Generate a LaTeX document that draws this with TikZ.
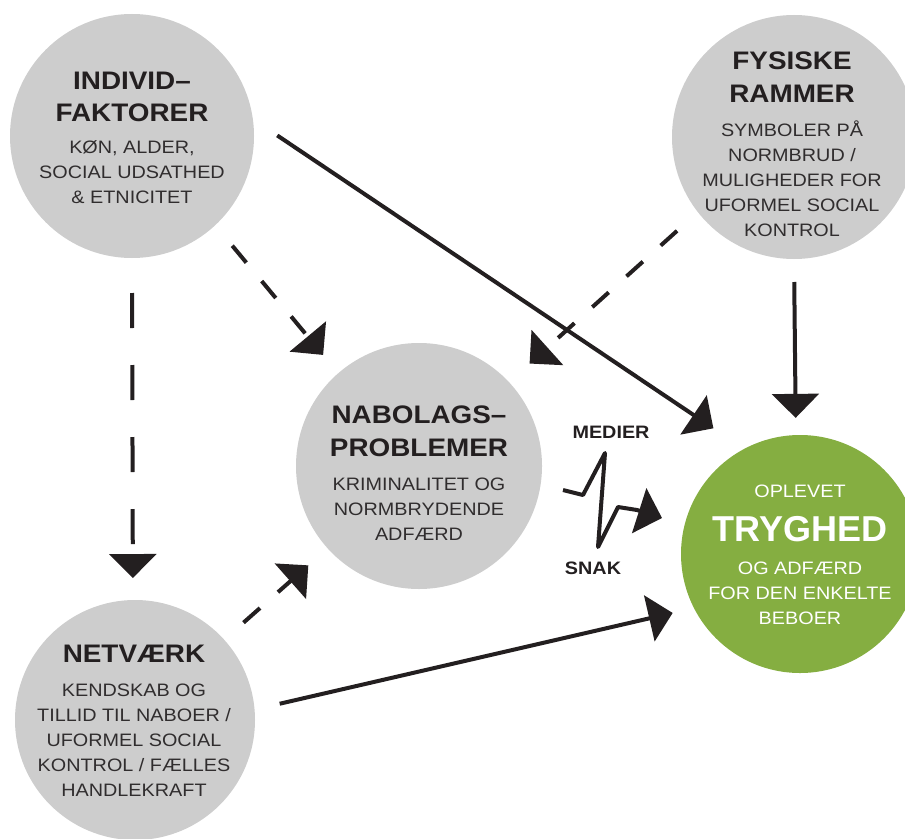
\documentclass[tikz,border=0pt]{standalone}
\usepackage{fontspec}
\setmainfont{Liberation Sans}
\newfontfamily\titlefam{Liberation Sans}[FakeStretch=1.1]
\newfontfamily\bodyfam{Liberation Sans}[FakeStretch=1.1]
\usetikzlibrary{arrows.meta}

\definecolor{circgrey}{RGB}{205,205,205}
\definecolor{trygreen}{RGB}{133,174,65}
\definecolor{inkblack}{RGB}{35,31,32}
\definecolor{bodygrey}{RGB}{48,45,46}

\newcommand{\bodyfont}{\bodyfam\fontsize{13.5pt}{18.75pt}\selectfont\lineskiplimit=-30pt\relax}
\newcommand{\titlefont}{\titlefam\bfseries\fontsize{19pt}{18.75pt}\selectfont\color{inkblack}}
\newcommand{\bigfont}{\rmfamily\bfseries\fontsize{27pt}{18.75pt}\selectfont}

\begin{document}
\begin{tikzpicture}[x=0.75pt,y=0.75pt,yscale=-1,xscale=1,
  greycirc/.style={circle, fill=circgrey, inner sep=0pt, outer sep=0pt},
  greencirc/.style={circle, fill=trygreen, inner sep=0pt, outer sep=0pt},
  circtext/.style={align=center, inner sep=0pt, anchor=north, text=bodygrey, font=\bodyfont},
  medtext/.style={inner sep=0pt, text=inkblack, font=\titlefam\bfseries\fontsize{13.5pt}{16pt}\selectfont},
  solidarrow/.style={line width=3pt, draw=inkblack, -{Triangle[length=18pt,width=35pt]}},
  dashedarrow/.style={solidarrow, dash pattern=on 16.5pt off 18pt}
]
\useasboundingbox (0,0) rectangle (905,838);

%Shape: Circle
\node[greycirc, minimum size=183pt] (indivi) at (132,136) {};
%Shape: Circle
\node[greycirc, minimum size=183pt] (fysisk) at (794,137) {};
%Shape: Circle
\node[greycirc, minimum size=184.5pt] (nabolag) at (419,466) {};
%Shape: Circle
\node[greycirc, minimum size=180pt] (netvaerk) at (135,720) {};
%Shape: Circle
\node[greencirc, minimum size=178.5pt] (tryghed) at (800,554) {};

%Straight Lines
\draw[solidarrow, shorten <=22.1pt, shorten >=27.75pt] (indivi.8) -- (tryghed.118.7);
\draw[dashedarrow, shorten <=20pt, shorten >=17.8pt] (indivi.-47.2) -- (nabolag.131.4);
\draw[dashedarrow, dash pattern=on 26.25pt off 27.75pt, shorten <=26.25pt, shorten >=16.5pt] (indivi.-90) -- (netvaerk.91.2);
\draw[dashedarrow, shorten <=21pt, shorten >=20.8pt] (fysisk.218.8) -- (nabolag.43.1);
\draw[solidarrow, shorten <=17.25pt, shorten >=12.9pt] (fysisk.-90.4) -- (tryghed.92.9);
\draw[dashedarrow, shorten <=19.35pt, shorten >=19.3pt] (netvaerk.42.2) -- (nabolag.-138.3);
\draw[solidarrow, shorten <=19.35pt, shorten >=16.4pt] (netvaerk.5.9) -- (tryghed.207.5);

%Zigzag
\draw[solidarrow, line join=round] (563,490) -- (583,495) -- (605,453) -- (598,547) -- (618,507) -- (637,510) -- (662,518);

% Text Node
\node[circtext] (indivi-txt) at (132,72) {{\titlefont INDIVID–}\\[5pt]{\titlefont FAKTORER}\\[5.5pt]KØN, ALDER,\\SOCIAL UDSATHED\\\&{} ETNICITET};
% Text Node
\node[circtext] (fysisk-txt) at (792,52) {{\titlefont FYSISKE}\\[6pt]{\titlefont RAMMER}\\[6.75pt]SYMBOLER PÅ\\NORMBRUD /\\MULIGHEDER FOR\\UFORMEL SOCIAL\\KONTROL};
% Text Node
\node[circtext] (nabolag-txt) at (419,406) {{\titlefont NABOLAGS–}\\[6pt]{\titlefont PROBLEMER}\\[6.75pt]KRIMINALITET OG\\NORMBRYDENDE\\ADFÆRD};
% Text Node
\node[circtext] (netvaerk-txt) at (134,645) {{\titlefont NETVÆRK}\\[6.5pt]KENDSKAB OG\\TILLID TIL NABOER /\\UFORMEL SOCIAL\\KONTROL / FÆLLES\\HANDLEKRAFT};
% Text Node
\node[circtext, text=white] (tryghed-txt) at (800,485) {OPLEVET\\[14.25pt]{\bigfont TRYGHED}\\[6pt]OG ADFÆRD\\FOR DEN ENKELTE\\BEBOER};
% Text Node
\node[medtext] (medier) at (611,432) {MEDIER};
% Text Node
\node[medtext] (snak) at (593,568) {SNAK};

\end{tikzpicture}
\end{document}
